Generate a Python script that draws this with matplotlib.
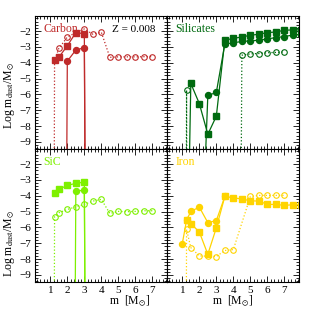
import numpy as np
import matplotlib
matplotlib.use("Agg")
import matplotlib.pyplot as plt
from matplotlib.ticker import MultipleLocator

# Log m_dust / Msun vs initial mass, Z = 0.008
# -99 / -20 = no dust produced (drawn as a drop off the bottom of the panel)
NONE = -99

# Carbon
carbon_sq_m = [1.25, 1.5, 2.0, 2.5, 3.0, 3.5]
carbon_sq = [-3.85, -3.66, -2.93, -2.10, -2.17, NONE]
carbon_ci_m = [1.5, 2.0, 2.5, 3.0, 3.5]
carbon_ci = [NONE, -3.90, -3.20, -3.05, NONE]
carbon_op_m = [1.0, 1.25, 1.5, 2.0, 2.5, 3.0, 3.5, 4.0, 4.5, 5.0, 5.5, 6.0, 6.5, 7.0]
carbon_op = [NONE, -3.85, -3.10, -2.38, -2.10, -1.87, -2.20, -2.08, -3.66, -3.63, -3.63, -3.63, -3.62, -3.62]

# Silicates
sil_sq_m = [1.25, 1.5, 2.0, 2.5, 3.0, 3.5, 4.0, 4.5, 5.0, 5.5, 6.0, 6.5, 7.0, 7.5, 8.0]
sil_sq = [-20, -5.31, -6.58, -8.52, -7.38, -2.57, -2.47, -2.37, -2.27, -2.20, -2.10, -2.06, -1.95, -1.93, -1.92]
sil_ci_m = [2.0, 2.5, 3.0, 3.5, 4.0, 4.5, 5.0, 5.5, 6.0, 6.5, 7.0, 7.5, 8.0]
sil_ci = [-20, -6.07, -5.88, -2.82, -2.74, -2.66, -2.62, -2.58, -2.50, -2.41, -2.35, -2.25, -2.22]
sil_op_m = [1.0, 1.25, 1.5, 4.0, 4.5, 5.0, 5.5, 6.0, 6.5, 7.0]
sil_op = [NONE, -5.73, NONE, NONE, -3.53, -3.44, -3.42, -3.37, -3.35, -3.32]

# SiC
sic_sq_m = [1.25, 1.5, 2.0, 2.5, 3.0, 3.5]
sic_sq = [-3.82, -3.60, -3.35, -3.22, -3.14, NONE]
sic_ci_m = [2.0, 2.5, 3.0, 3.5]
sic_ci = [NONE, -3.73, -3.63, NONE]
sic_op_m = [1.0, 1.25, 1.5, 2.0, 2.5, 3.0, 3.5, 4.0, 4.5, 5.0, 5.5, 6.0, 6.5, 7.0]
sic_op = [NONE, -5.33, -5.08, -4.87, -4.70, -4.55, -4.34, -4.23, -5.12, -4.99, -5.01, -4.99, -4.95, -4.95]

# Iron
iron_sq_m = [1.25, 1.5, 2.0, 2.5, 3.0, 3.5, 4.0, 4.5, 5.0, 5.5, 6.0, 6.5, 7.0, 7.5, 8.0]
iron_sq = [-5.55, -5.76, -6.29, -7.70, -6.03, -4.05, -4.13, -4.21, -4.32, -4.34, -4.55, -4.55, -4.61, -4.57, -4.57]
iron_ci_m = [1.0, 1.25, 1.5, 2.0, 2.5, 3.0, 3.5]
iron_ci = [-7.02, -5.55, -4.99, -4.72, -5.70, -5.57, -4.05]
iron_op_m = [1.0, 1.25, 1.5, 2.0, 2.5, 3.0, 3.5, 4.0, 5.0, 5.5, 6.0, 6.5, 7.0]
iron_op = [NONE, -6.13, -7.28, -7.80, -7.82, -7.84, -7.46, -7.40, -4.05, -3.98, -3.98, -3.98, -3.98]

panels = [
    ("Carbon", "#bf2a2a", carbon_sq_m, carbon_sq, carbon_ci_m, carbon_ci, carbon_op_m, carbon_op),
    ("Silicates", "#006a10", sil_sq_m, sil_sq, sil_ci_m, sil_ci, sil_op_m, sil_op),
    ("SiC", "#7ef000", sic_sq_m, sic_sq, sic_ci_m, sic_ci, sic_op_m, sic_op),
    ("Iron", "#ffd400", iron_sq_m, iron_sq, iron_ci_m, iron_ci, iron_op_m, iron_op),
]

plt.rcParams['font.family'] = ['Liberation Serif', 'DejaVu Serif']
plt.rcParams['mathtext.fontset'] = 'stix'

fig = plt.figure(figsize=(3.16, 3.16), dpi=100)
W, H = 132 / 316, 133 / 316
x0, ybot = 35 / 316, (316 - 282) / 316
positions = [(x0, ybot + H), (x0 + W, ybot + H), (x0, ybot), (x0 + W, ybot)]

for i, (name, col, sq_m, sq, ci_m, ci, op_m, op) in enumerate(panels):
    ax = fig.add_axes([positions[i][0], positions[i][1], W, H])
    ax.plot(op_m, op, ls=':', lw=0.9, color=col, marker='o', ms=4, mfc='none', mew=0.8)
    ax.plot(ci_m, ci, ls='-', lw=0.9, color=col, marker='o', ms=4.3)
    ax.plot(sq_m, sq, ls='-', lw=0.9, color=col, marker='s', ms=4.3)

    ax.set_xlim(0.1, 7.86)
    ax.set_ylim(-9.45, -1.05)
    ax.xaxis.set_major_locator(MultipleLocator(1))
    ax.xaxis.set_minor_locator(MultipleLocator(0.2))
    ax.yaxis.set_major_locator(MultipleLocator(1))
    ax.yaxis.set_minor_locator(MultipleLocator(0.2))
    ax.tick_params(which='both', direction='in', top=True, right=True, labelsize=8,
                   width=0.6, pad=3)
    ax.tick_params(which='major', length=4)
    ax.tick_params(which='minor', length=2)
    for s in ax.spines.values():
        s.set_linewidth(0.8)

    if i % 2 == 1:
        ax.set_yticklabels([])
    else:
        ax.set_ylabel(r"Log m$_{\rm dust}$/M$_{\odot}$", fontsize=8.5)
        ax.yaxis.set_label_coords(-0.14, 0.40 if i == 0 else 0.29)
    if i < 2:
        ax.set_xticklabels([])
    else:
        ax.set_xticks([1, 2, 3, 4, 5, 6, 7])
        ax.set_xlabel(r"m  [M$_{\odot}$]", fontsize=8.5)
        ax.xaxis.set_label_coords(0.72 if i == 2 else 0.5, -0.09)

    ax.text(0.065, 0.905, name, color=col, fontsize=8.5, transform=ax.transAxes,
            ha='left', va='center')
    if i == 0:
        ax.text(0.91, 0.90, "Z = 0.008", color='black', fontsize=8,
                transform=ax.transAxes, ha='right', va='center')

fig.savefig("out.png", dpi=100)
